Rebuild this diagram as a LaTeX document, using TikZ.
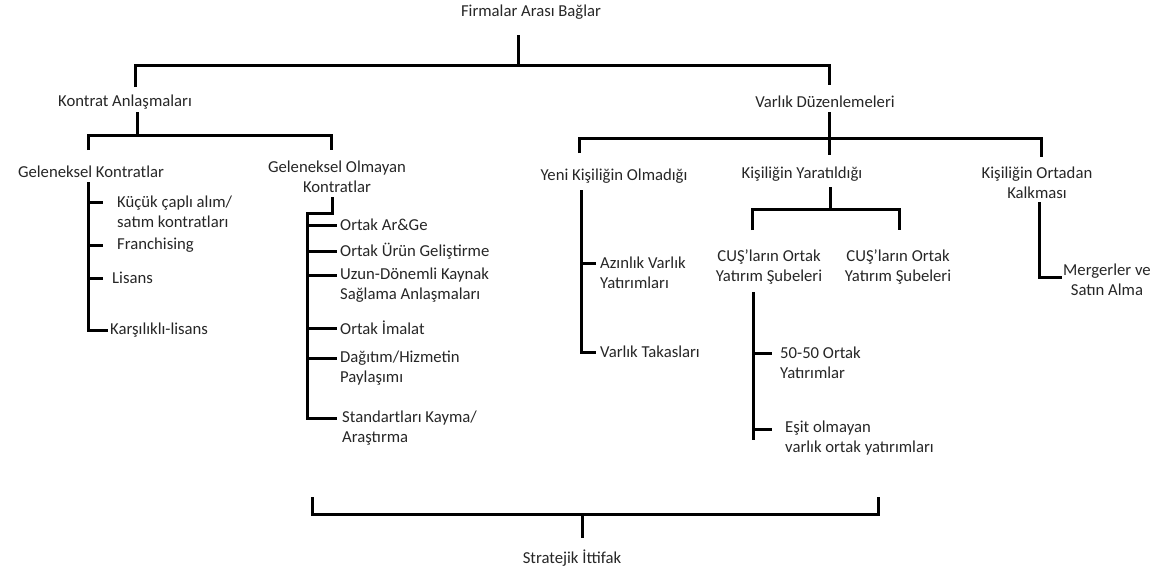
\documentclass[tikz,border=0pt]{standalone}
\usepackage{fontspec}
\setmainfont{Carlito}
\begin{document}
\begin{tikzpicture}[
    x=1pt, y=-1pt,
    bar/.style={line width=3pt, black},
    lbl/.style={inner sep=0pt, text=black!85, font=\fontsize{16.7}{20}\selectfont},
    leaf/.style={lbl, anchor=west, align=left}
]
    \useasboundingbox (0,0) rectangle (1161,573);

    % --- TOP LEVEL ---

    % Coordinates
    \coordinate (T0) at (518,35);   % stub under the title
    \coordinate (T1) at (518,65);   % main bar
    \coordinate (KA) at (135,87);   % down to Kontrat
    \coordinate (VA) at (829,85);   % down to Varlik

    \node[lbl] (firm) at (531,12) {Firmalar Arası Bağlar};
    \node[lbl] (kontrat) at (125,102) {Kontrat Anlaşmaları};
    \node[lbl] (varlik) at (825,102) {Varlık Düzenlemeleri};

    \draw[bar] (T0) -- (T1);
    \draw[bar] (KA) |- (T1) -| (VA);

    % --- LEFT BRANCH (Kontrat) ---

    \coordinate (K0) at (137,112);
    \coordinate (K1) at (137,135);
    \coordinate (GK) at (88,150);
    \coordinate (GO) at (331,150);

    \node[lbl] (gelk) at (91,172) {Geleneksel Kontratlar};
    \node[lbl, align=center] (gelo) at (337,177) {Geleneksel Olmayan\\Kontratlar};

    \draw[bar] (K0) -- (K1);
    \draw[bar] (GK) |- (K1) -| (GO);

    % Traditional contracts
    \coordinate (G0) at (88,182);

    \node[leaf] (kucuk) at (117,212) {Küçük çaplı alım/\\satım kontratları};
    \node[leaf] (fran) at (117,245) {Franchising};
    \node[leaf] (lis) at (112,278) {Lisans};
    \node[leaf] (kars) at (110,330) {Karşılıklı-lisans};

    \draw[bar] (G0) |- ([xshift=-2pt]kars.west);
    \draw[bar] ([yshift=10pt]kucuk.west -| G0) -- ++(15,0);
    \draw[bar] (fran.west -| G0) -- ++(15,0);
    \draw[bar] (lis.west -| G0) -- ++(15,0);

    % Non-traditional contracts
    \coordinate (O0) at (332,197);
    \coordinate (O1) at (307,213);

    \node[leaf] (arge) at (340,225) {Ortak Ar\&Ge};
    \node[leaf] (urun) at (340,251) {Ortak Ürün Geliştirme};
    \node[leaf] (uzun) at (340,285) {Uzun-Dönemli Kaynak\\Sağlama Anlaşmaları};
    \node[leaf] (imalat) at (340,328) {Ortak İmalat};
    \node[leaf] (dagitim) at (340,368) {Dağıtım/Hizmetin\\Paylaşımı};
    \node[leaf] (standart) at (342,428) {Standartları Kayma/\\Araştırma};

    \draw[bar] (O0) |- (O1) |- ([yshift=10pt,xshift=-5pt]standart.west);
    \draw[bar] (arge.west -| O1) -- ++(30,0);
    \draw[bar] (urun.west -| O1) -- ++(30,0);
    \draw[bar] ([yshift=10pt]uzun.west -| O1) -- ++(30,0);
    \draw[bar] (imalat.west -| O1) -- ++(30,0);
    \draw[bar] ([yshift=10pt]dagitim.west -| O1) -- ++(30,0);

    % --- RIGHT BRANCH (Varlik) ---

    \coordinate (V0) at (829,112);
    \coordinate (VB) at (829,138);
    \coordinate (V1) at (829,155);
    \coordinate (YE) at (579,153);
    \coordinate (OR) at (1041,157);

    \node[lbl] (yeni) at (614,176) {Yeni Kişiliğin Olmadığı};
    \node[lbl] (yarat) at (802,174) {Kişiliğin Yaratıldığı};
    \node[lbl, align=center] (ortadan) at (1037,183) {Kişiliğin Ortadan\\Kalkması};

    \draw[bar] (V0) -- (V1);
    \draw[bar] (YE) |- (VB) -| (OR);

    % No new entity
    \coordinate (Y0) at (581,190);

    \node[leaf] (azinlik) at (600,273) {Azınlık Varlık\\Yatırımları};
    \node[leaf] (takas) at (600,352) {Varlık Takasları};

    \draw[bar] (Y0) |- ([xshift=-4pt]takas.west);
    \draw[bar] ([yshift=10pt]azinlik.west -| Y0) -- ++(15,0);

    % New entity
    \coordinate (C0) at (830,187);
    \coordinate (C1) at (830,209);
    \coordinate (CL) at (752,230);
    \coordinate (CR) at (899,230);

    \node[lbl, align=center] (cus1) at (769,267) {CUŞ'ların Ortak\\Yatırım Şubeleri};
    \node[lbl, align=center] (cus2) at (898,267) {CUŞ'ların Ortak\\Yatırım Şubeleri};

    \draw[bar] (C0) -- (C1);
    \draw[bar] (CL) |- (C1) -| (CR);

    \coordinate (U0) at (753,292);
    \coordinate (U1) at (753,440);

    \node[leaf] (elli) at (780,363) {50-50 Ortak\\Yatırımlar};
    \node[leaf] (esit) at (785,438) {Eşit olmayan\\varlık ortak yatırımları};

    \draw[bar] (U0) -- (U1);
    \draw[bar] ([yshift=10pt]elli.west -| U0) -- ++(19,0);
    \draw[bar] ([yshift=9pt]esit.west -| U0) -- ++(19,0);

    % Entity removed
    \coordinate (R0) at (1039,202);

    \node[lbl, align=center, anchor=west] (merger) at (1063,280) {Mergerler ve\\Satın Alma};

    \draw[bar] (R0) |- ([yshift=3pt,xshift=-1pt]merger.west);

    % --- BOTTOM BRACKET ---

    \coordinate (BL) at (312,497);
    \coordinate (BR) at (878,497);
    \coordinate (BC) at (582,514);
    \coordinate (BS) at (582,538);

    \node[lbl] (strat) at (572,558) {Stratejik İttifak};

    \draw[bar] (BL) |- (BC) -| (BR);
    \draw[bar] (BC) -- (BS);

\end{tikzpicture}
\end{document}
